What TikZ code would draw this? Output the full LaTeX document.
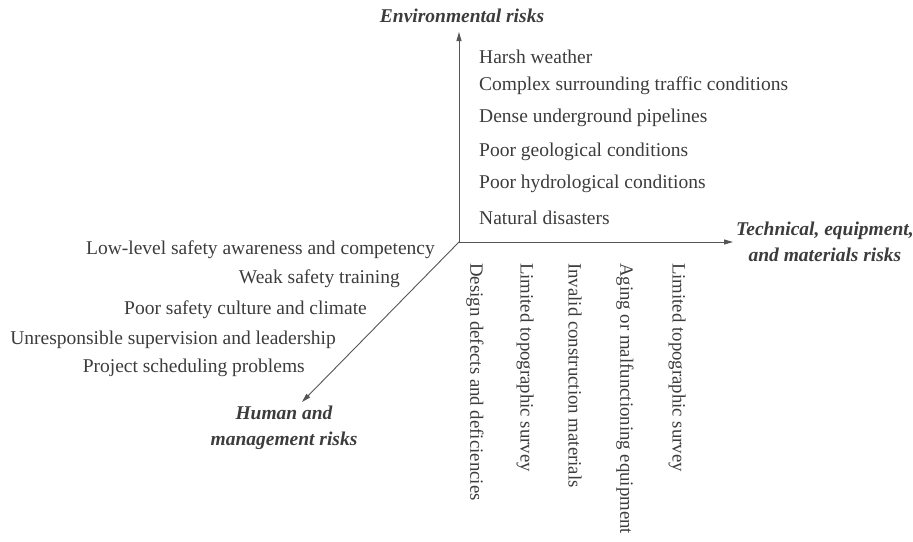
\documentclass[tikz,border=0pt]{standalone}
\usepackage{fontspec}
\setmainfont{Liberation Serif}
\usetikzlibrary{arrows.meta}
\definecolor{txtgray}{HTML}{3C3C3C}
\definecolor{axgray}{HTML}{555555}
\begin{document}
\begin{tikzpicture}[x=1pt,y=1pt]
	\tikzstyle{every node}+=[inner sep=0pt, text=txtgray, font=\fontsize{19.5}{23}\selectfont]
	\tikzstyle{axis}=[axgray, line width=0.9pt, -{Triangle[length=9pt,width=5pt]}]
	\tikzstyle{head}=[font=\fontsize{19.5}{26}\selectfont\bfseries\itshape, align=center]
	\tikzstyle{down}=[rotate=-90, anchor=west, font=\fontsize{18.8}{23}\selectfont]
	\useasboundingbox (0,0) rectangle (913,-541);
	\coordinate (o) at (459,-242);
	\coordinate (env) at (459,-32);
	\coordinate (tec) at (733,-242);
	\coordinate (hum) at (302,-402);
	\draw [axis] (o) -- (env);
	\draw [axis] (o) -- (tec);
	\draw [axis] (o) -- (hum);
	\node [head] (envlab) at (462,-16) {Environmental risks};
	\node [head, anchor=west] (teclab) at (736,-242) {Technical, equipment,\\and materials risks};
	\node [head] (humlab) at (284,-428) {Human and\\management risks};
	% environmental
	\node [anchor=west] (e1) at (479,-57) {Harsh weather};
	\node [anchor=west] (e2) at (479,-86) {Complex surrounding traffic conditions};
	\node [anchor=west] (e3) at (479,-118) {Dense underground pipelines};
	\node [anchor=west] (e4) at (479,-152) {Poor geological conditions};
	\node [anchor=west] (e5) at (479,-184) {Poor hydrological conditions};
	\node [anchor=west] (e6) at (479,-218) {Natural disasters};
	% human and management
	\node [anchor=east] (h1) at (435,-250) {Low-level safety awareness and competency};
	\node [anchor=east] (h2) at (400,-279) {Weak safety training};
	\node [anchor=east] (h3) at (367,-310) {Poor safety culture and climate};
	\node [anchor=east] (h4) at (336,-340) {Unresponsible supervision and leadership};
	\node [anchor=east] (h5) at (305,-368) {Project scheduling problems};
	% technical
	\node [down] (t1) at (475,-263) {Design defects and deficiencies};
	\node [down] (t2) at (525,-263) {Limited topographic survey};
	\node [down] (t3) at (575,-263) {Invalid construction materials};
	\node [down] (t4) at (625,-263) {Aging or malfunctioning equipment};
	\node [down] (t5) at (677,-263) {Limited topographic survey};
\end{tikzpicture}
\end{document}
